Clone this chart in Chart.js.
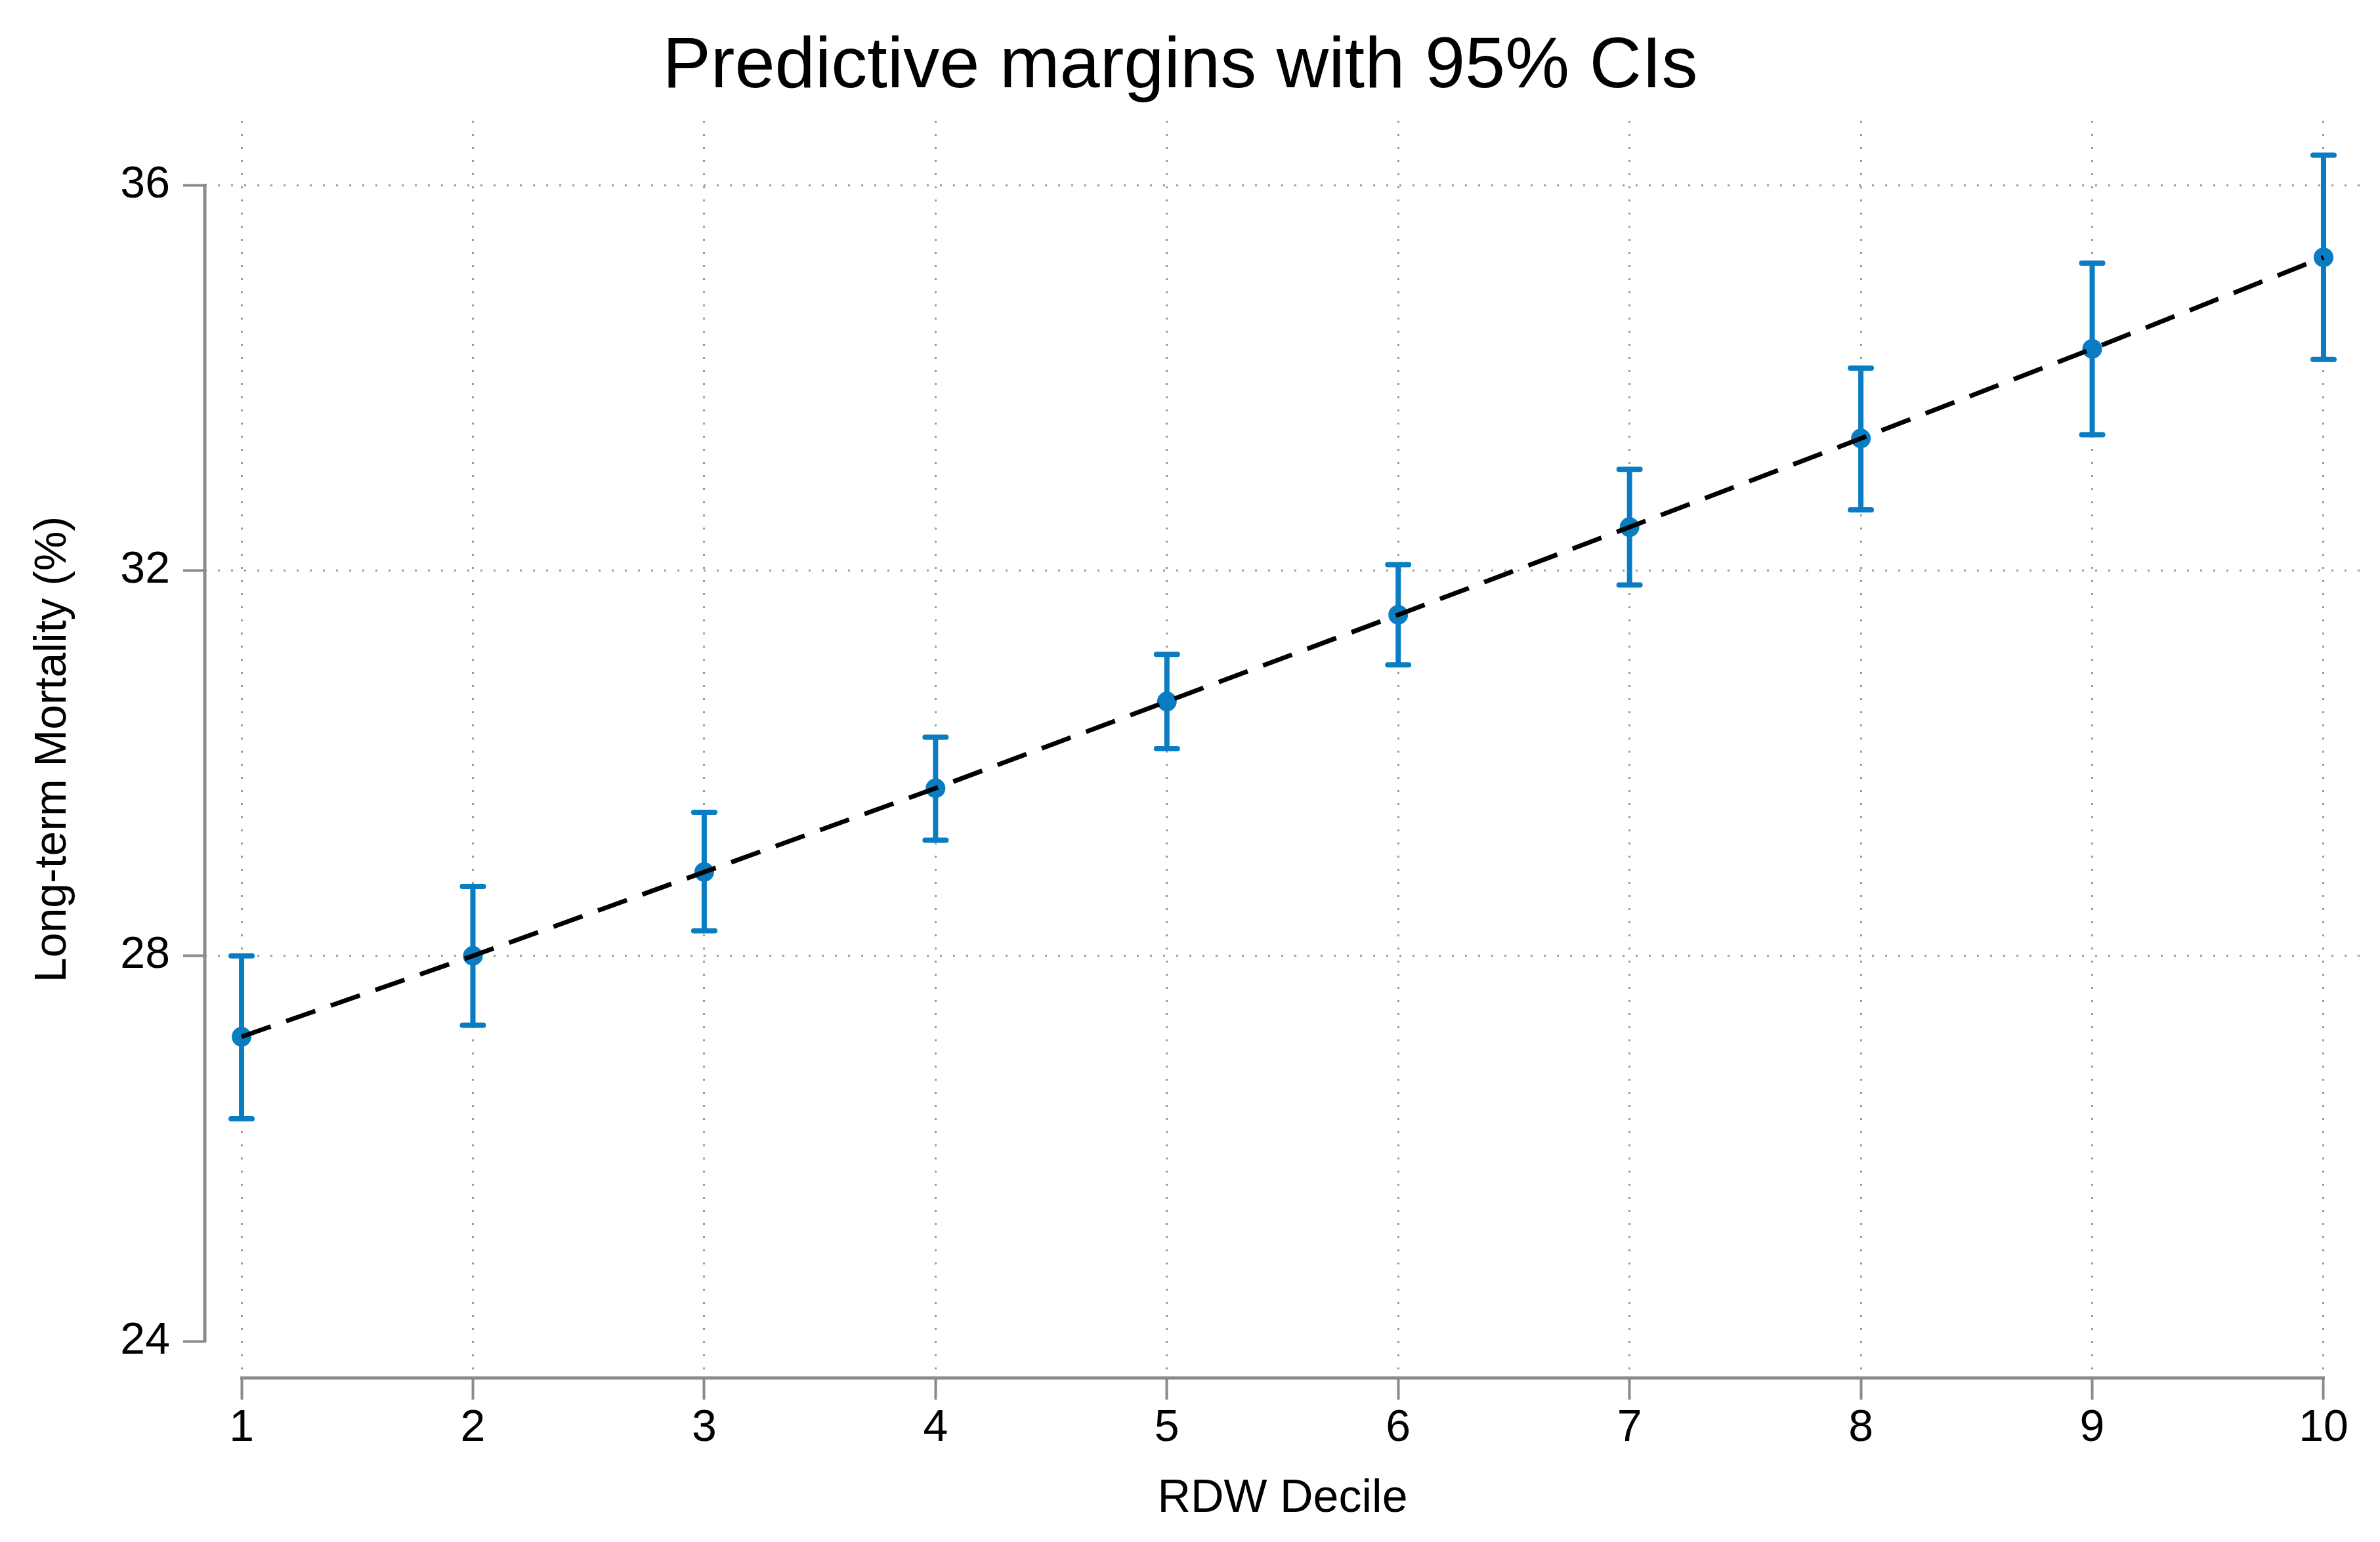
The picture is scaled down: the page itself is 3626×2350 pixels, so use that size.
<!DOCTYPE html>
<html>
<head>
<meta charset="utf-8">
<script src="https://cdn.jsdelivr.net/npm/chart.js@4"></script>
<style>
  html, body { margin: 0; padding: 0; background: #fff; }
  #wrap { width: 3626px; height: 2350px; }
</style>
</head>
<body>
<div id="wrap"><canvas id="margins-chart" width="3626" height="2350"></canvas></div>
<script>
// predictive margins by RDW decile, with 95% CI
const deciles  = [1, 2, 3, 4, 5, 6, 7, 8, 9, 10];
const margins  = [27.16, 28.00, 28.87, 29.74, 30.64, 31.54, 32.45, 33.37, 34.30, 35.25];
const ciLow    = [26.31, 27.28, 28.26, 29.20, 30.15, 31.02, 31.85, 32.63, 33.41, 34.19];
const ciHigh   = [28.00, 28.72, 29.49, 30.27, 31.13, 32.06, 33.05, 34.10, 35.19, 36.31];
const yTicks   = [24, 28, 32, 36];

const BLUE      = '#0a7cc1';
const AXIS_GREY = '#8a8a8a';
const GRID_GREY = '#9a9a9a';
const FONT      = '"Liberation Sans", Arial, Helvetica, sans-serif';

const points = deciles.map((d, i) => ({ x: d, y: margins[i] }));

// error bars + axis lines drawn from the scales
const ciPlugin = {
  id: 'ciBars',
  beforeDatasetsDraw(chart) {
    const { ctx, scales: { x, y } } = chart;
    ctx.save();
    ctx.strokeStyle = BLUE;
    ctx.lineWidth = 8;
    deciles.forEach((d, i) => {
      const px = x.getPixelForValue(d);
      const lo = y.getPixelForValue(ciLow[i]);
      const hi = y.getPixelForValue(ciHigh[i]);
      ctx.lineCap = 'butt';
      ctx.beginPath();
      ctx.moveTo(px, lo);
      ctx.lineTo(px, hi);
      ctx.stroke();
      ctx.lineCap = 'round';
      ctx.beginPath();
      ctx.moveTo(px - 16, lo);
      ctx.lineTo(px + 16, lo);
      ctx.moveTo(px - 16, hi);
      ctx.lineTo(px + 16, hi);
      ctx.stroke();
    });
    ctx.restore();
  },
  afterDraw(chart) {
    const { ctx, scales: { x, y }, chartArea } = chart;
    ctx.save();
    ctx.strokeStyle = AXIS_GREY;
    ctx.lineWidth = 5;
    ctx.beginPath();
    ctx.moveTo(chartArea.left, y.getPixelForValue(yTicks[0]) + 2);
    ctx.lineTo(chartArea.left, y.getPixelForValue(yTicks[yTicks.length - 1]) - 2);
    ctx.moveTo(x.getPixelForValue(deciles[0]) - 2, chartArea.bottom);
    ctx.lineTo(x.getPixelForValue(deciles[deciles.length - 1]) + 2, chartArea.bottom);
    ctx.stroke();
    ctx.restore();
  }
};

new Chart(document.getElementById('margins-chart').getContext('2d'), {
  type: 'line',
  data: {
    datasets: [
      {
        label: 'fit',
        data: points,
        borderColor: '#000',
        borderWidth: 7,
        borderDash: [47, 25],
        pointRadius: 0,
        fill: false,
        tension: 0,
        order: 0,
      },
      {
        label: 'margins',
        data: points,
        showLine: false,
        pointRadius: 14,
        pointBackgroundColor: BLUE,
        pointBorderColor: BLUE,
        pointBorderWidth: 2,
        order: 1,
      },
    ],
  },
  options: {
    responsive: false,
    devicePixelRatio: 1,
    animation: false,
    layout: { padding: { left: 0, right: 30, top: 0, bottom: 0 } },
    scales: {
      x: {
        type: 'linear',
        min: 0.841,
        max: 10.159,
        afterBuildTicks: s => { s.ticks = deciles.map(v => ({ value: v })); },
        afterFit: s => { s.height = 250; },
        ticks: { color: '#000', font: { family: FONT, size: 68 }, padding: 3, maxRotation: 0 },
        grid: {
          color: GRID_GREY,
          lineWidth: 3,
          tickLength: 33,
          tickColor: AXIS_GREY,
          tickWidth: 4,
          tickBorderDash: [],
        },
        border: { display: false, dash: [3, 17] },
        title: {
          display: true,
          text: 'RDW Decile',
          color: '#000',
          font: { family: FONT, size: 70 },
          padding: { top: 0, bottom: 23 },
        },
      },
      y: {
        min: 23.619,
        max: 36.668,
        afterBuildTicks: s => { s.ticks = yTicks.map(v => ({ value: v })); },
        afterFit: s => { s.width = 312; },
        ticks: { color: '#000', font: { family: FONT, size: 68 }, padding: 20 },
        grid: {
          color: c => (c.tick && c.tick.value === 24 ? 'rgba(0,0,0,0)' : GRID_GREY),
          lineWidth: 3,
          tickLength: 33,
          tickColor: AXIS_GREY,
          tickWidth: 4,
          tickBorderDash: [],
        },
        border: { display: false, dash: [3, 17] },
        title: {
          display: true,
          text: 'Long-term Mortality (%)',
          color: '#000',
          font: { family: FONT, size: 68 },
          padding: { top: 40, bottom: 0 },
        },
      },
    },
    plugins: {
      legend: { display: false },
      tooltip: { enabled: false },
      title: {
        display: true,
        text: 'Predictive margins with 95% CIs',
        color: '#000',
        font: { family: FONT, size: 110, weight: 'normal' },
        padding: { top: 37, bottom: 15 },
      },
    },
  },
  plugins: [ciPlugin],
});
</script>
</body>
</html>
